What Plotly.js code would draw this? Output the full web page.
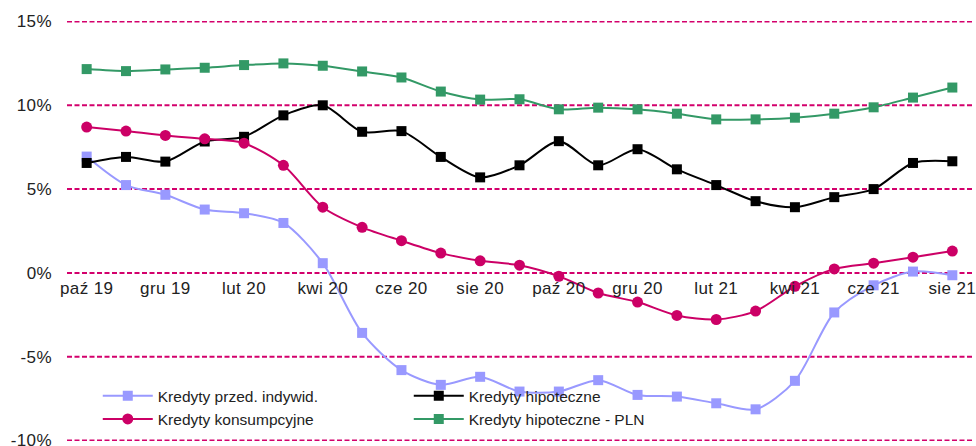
<!DOCTYPE html>
<html>
<head>
<meta charset="utf-8">
<script src="https://cdn.plot.ly/plotly-3.0.1.min.js"></script>
<style>
  html, body { margin: 0; padding: 0; background: #fff; }
  #chart { width: 976px; height: 446px; }
  .xtick text, .ytick text { letter-spacing: 0.4px; }
</style>
</head>
<body>
<div id="chart"></div>
<script>
// miesiące paź 19 - sie 21
const miesiace = ['paź 19', 'lis 19', 'gru 19', 'sty 20', 'lut 20', 'mar 20', 'kwi 20', 'maj 20',
    'cze 20', 'lip 20', 'sie 20', 'wrz 20', 'paź 20', 'lis 20', 'gru 20', 'sty 21', 'lut 21',
    'mar 21', 'kwi 21', 'maj 21', 'cze 21', 'lip 21', 'sie 21'];
const etykiety = ['paź 19', 'gru 19', 'lut 20', 'kwi 20', 'cze 20', 'sie 20', 'paź 20',
    'gru 20', 'lut 21', 'kwi 21', 'cze 21', 'sie 21'];
const osY = [-10, -5, 0, 5, 10, 15];
const osYtekst = ['-10%', '-5%', '0%', '5%', '10%', '15%'];

const przedIndywid = [6.94, 5.24, 4.66, 3.78, 3.56, 2.98, 0.58, -3.58, -5.8, -6.68, -6.2, -7.08,
    -7.08, -6.4, -7.28, -7.38, -7.78, -8.14, -6.44, -2.36, -0.74, 0.08, -0.14];
const hipoteczne = [6.56, 6.92, 6.64, 7.84, 8.12, 9.4, 10.0, 8.42, 8.46, 6.92, 5.7, 6.42,
    7.86, 6.42, 7.38, 6.18, 5.24, 4.28, 3.92, 4.52, 5.0, 6.56, 6.66];
const konsumpcyjne = [8.7, 8.46, 8.2, 8.0, 7.74, 6.42, 3.92, 2.72, 1.92, 1.18, 0.72, 0.46,
    -0.2, -1.2, -1.74, -2.54, -2.78, -2.28, -0.8, 0.24, 0.58, 0.94, 1.3];
const hipotecznePLN = [12.16, 12.04, 12.14, 12.24, 12.4, 12.5, 12.36, 12.02, 11.66, 10.82, 10.34, 10.36,
    9.76, 9.86, 9.76, 9.5, 9.16, 9.16, 9.26, 9.5, 9.88, 10.46, 11.06];

const FONT = 'Liberation Sans, Arial, sans-serif';
const TXT = '#222222';
const C = { niebieski: '#9999FF', czarny: '#000000', rozowy: '#CC0066', zielony: '#339966', siatka: '#D3006C' };

function seria(nazwa, y, kolor, symbol) {
    return {
        type: 'scatter',
        mode: 'lines+markers',
        name: nazwa,
        x: miesiace,
        y: y,
        line: { color: kolor, width: 2, shape: 'spline', smoothing: 0.8 },
        marker: { color: kolor, symbol: symbol, size: symbol === 'circle' ? 11 : 10 },
        hoverinfo: 'skip',
    };
}

const dane = [
    seria('Kredyty przed. indywid.', przedIndywid, C.niebieski, 'square'),
    seria('Kredyty hipoteczne', hipoteczne, C.czarny, 'square'),
    seria('Kredyty konsumpcyjne', konsumpcyjne, C.rozowy, 'circle'),
    seria('Kredyty hipoteczne - PLN', hipotecznePLN, C.zielony, 'square'),
];

// linie siatki jako kształty (przerywane, różowe)
const siatka = osY.map(v => ({
    type: 'line', layer: 'below',
    xref: 'paper', x0: 0, x1: 1,
    yref: 'y', y0: v, y1: v,
    line: { color: C.siatka, width: 2, dash: '5px,2.5px' },
}));

const layout = {
    width: 976,
    height: 446,
    margin: { l: 67, r: 4, t: 21, b: 5 },
    paper_bgcolor: '#ffffff',
    plot_bgcolor: '#ffffff',
    font: { family: FONT, size: 17, color: TXT },
    showlegend: true,
    shapes: siatka,
    legend: {
        orientation: 'h',
        x: 0.034, xanchor: 'left',
        y: 0.147, yanchor: 'top',
        bgcolor: 'rgba(0,0,0,0)',
        font: { family: FONT, size: 15.5, color: TXT },
        entrywidth: 246,
        entrywidthmode: 'pixels',
        itemwidth: 50,
        tracegroupgap: 0,
    },
    xaxis: {
        type: 'category',
        range: [-0.5, 22.5],
        anchor: 'free',
        position: 0.4,
        showgrid: false,
        showline: false,
        zeroline: false,
        ticks: '',
        ticklen: 0,
        ticklabelstandoff: 3,
        tickmode: 'array',
        tickvals: etykiety,
        ticktext: etykiety,
        tickfont: { family: FONT, size: 17, color: TXT },
        fixedrange: true,
    },
    yaxis: {
        range: [-10.03, 15.03],
        tickmode: 'array',
        tickvals: osY,
        ticktext: osYtekst,
        showline: false,
        zeroline: false,
        showgrid: false,
        ticks: '',
        ticklen: 0,
        ticklabelstandoff: 14,
        ticklabeloverflow: 'allow',
        tickfont: { family: FONT, size: 17, color: TXT },
        fixedrange: true,
    },
};

Plotly.newPlot('chart', dane, layout, { displayModeBar: false, staticPlot: true });
</script>
</body>
</html>
